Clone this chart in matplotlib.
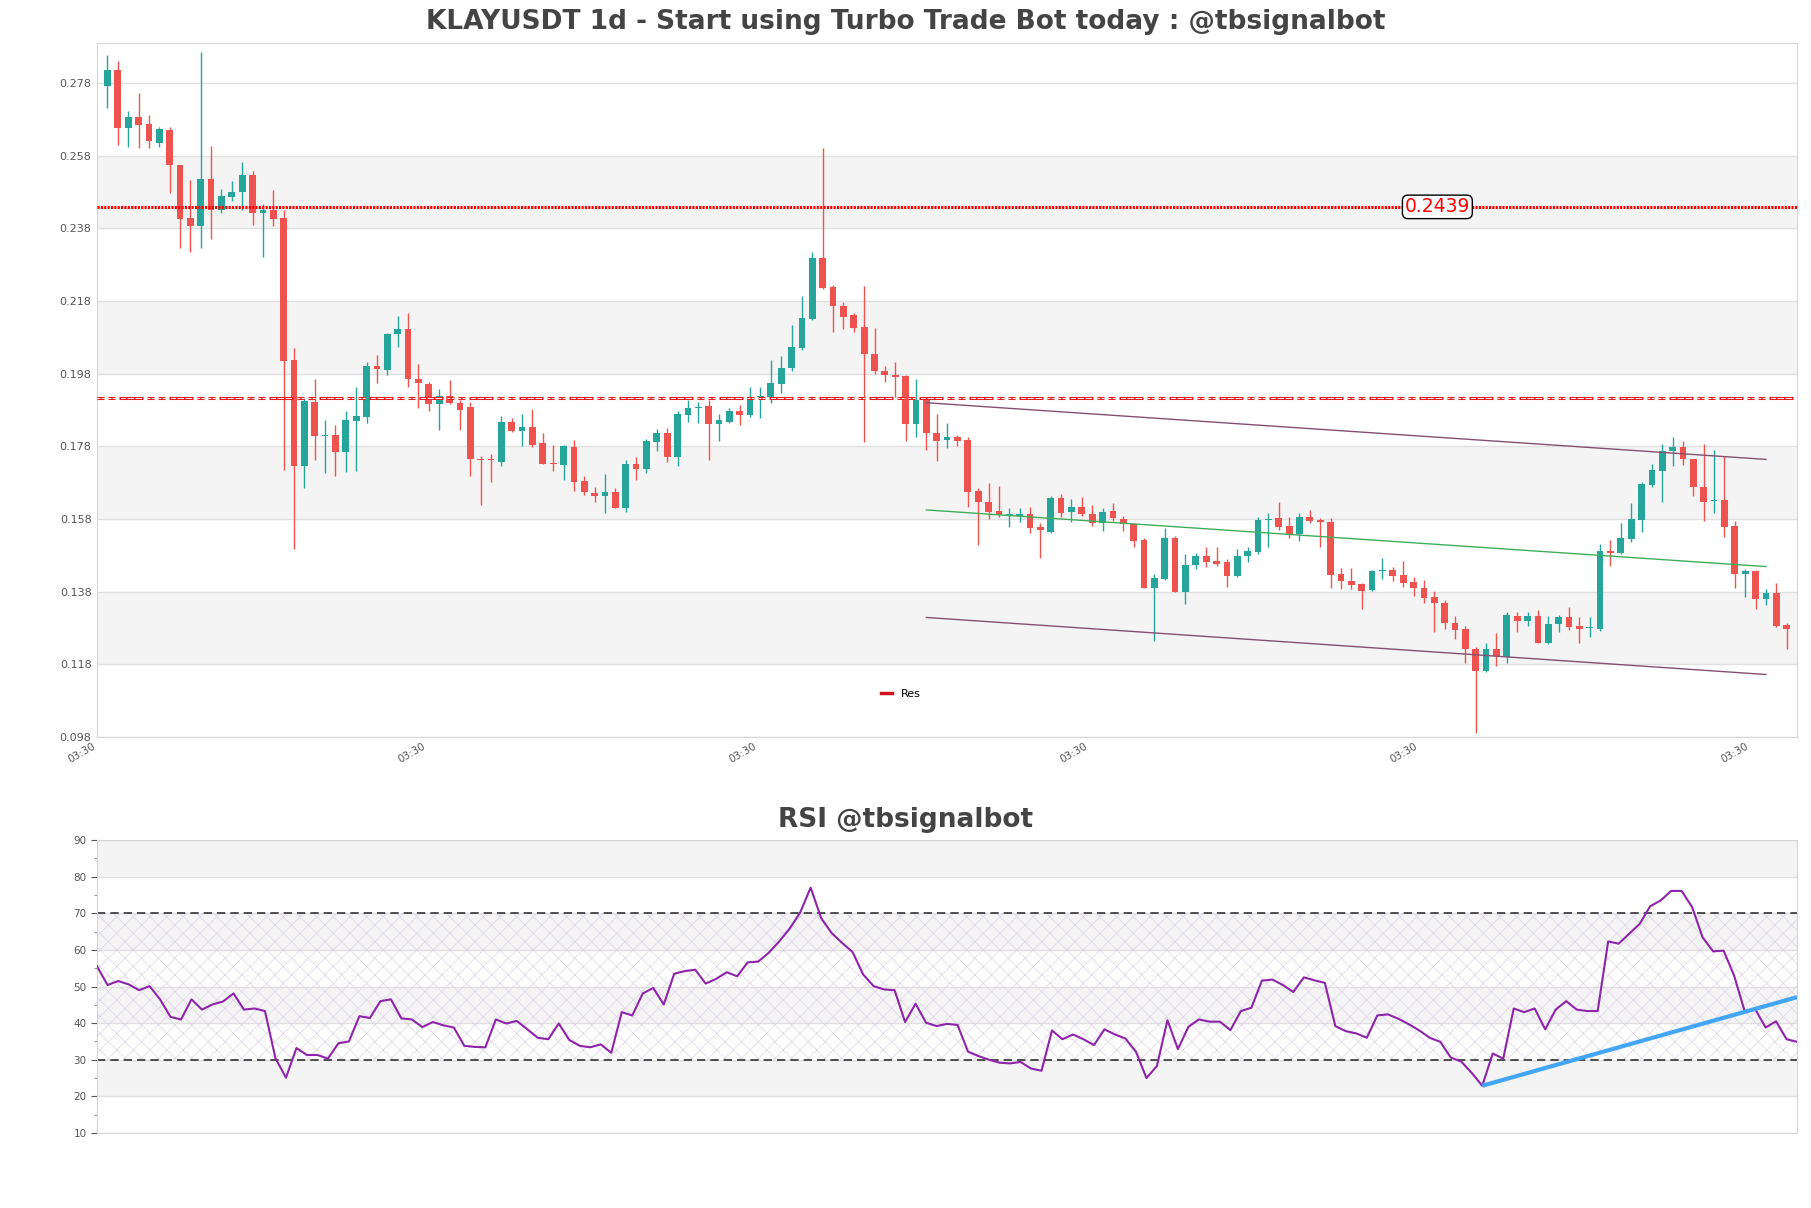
import matplotlib
matplotlib.use("Agg")
import matplotlib.pyplot as plt
from matplotlib.lines import Line2D
import numpy as np

# daily candles
opens = [0.2773, 0.2816, 0.2657, 0.2686, 0.2666, 0.2616, 0.2651, 0.2554, 0.2409, 0.2387,
         0.2516, 0.2431, 0.2467, 0.2481, 0.2527, 0.2423, 0.2431, 0.2408, 0.2018, 0.1727,
         0.1901, 0.1809, 0.1811, 0.1763, 0.1851, 0.1862, 0.2001, 0.1990, 0.2088, 0.2102,
         0.1964, 0.1952, 0.1896, 0.1919, 0.1900, 0.1887, 0.1745, 0.1744, 0.1738, 0.1847,
         0.1823, 0.1832, 0.1788, 0.1734, 0.1729, 0.1777, 0.1685, 0.1651, 0.1644, 0.1654,
         0.1611, 0.1731, 0.1718, 0.1793, 0.1816, 0.1750, 0.1866, 0.1885, 0.1891, 0.1841,
         0.1848, 0.1877, 0.1866, 0.1916, 0.1915, 0.1952, 0.1995, 0.2050, 0.2131, 0.2298,
         0.2218, 0.2167, 0.2142, 0.2108, 0.2033, 0.1987, 0.1976, 0.1974, 0.1842, 0.1908,
         0.1816, 0.1798, 0.1805, 0.1798, 0.1658, 0.1628, 0.1602, 0.1591, 0.1588, 0.1594,
         0.1559, 0.1545, 0.1639, 0.1600, 0.1612, 0.1594, 0.1568, 0.1603, 0.1579, 0.1566,
         0.1522, 0.1389, 0.1414, 0.1527, 0.1380, 0.1453, 0.1478, 0.1464, 0.1461, 0.1424,
         0.1479, 0.1490, 0.1577, 0.1582, 0.1561, 0.1539, 0.1585, 0.1577, 0.1571, 0.1429,
         0.1410, 0.1401, 0.1385, 0.1438, 0.1440, 0.1426, 0.1406, 0.1389, 0.1364, 0.1348,
         0.1293, 0.1276, 0.1221, 0.1163, 0.1221, 0.1201, 0.1314, 0.1300, 0.1313, 0.1238,
         0.1290, 0.1309, 0.1286, 0.1279, 0.1276, 0.1493, 0.1487, 0.1525, 0.1577, 0.1674,
         0.1713, 0.1768, 0.1777, 0.1745, 0.1669, 0.1630, 0.1632, 0.1561, 0.1428, 0.1437,
         0.1359, 0.1375, 0.1288]
highs = [0.2857, 0.2841, 0.2703, 0.2752, 0.2691, 0.2660, 0.2660, 0.2555, 0.2513, 0.2864,
         0.2607, 0.2487, 0.2510, 0.2562, 0.2538, 0.2447, 0.2486, 0.2431, 0.2050, 0.1912,
         0.1964, 0.1853, 0.1838, 0.1877, 0.1942, 0.2013, 0.2031, 0.2091, 0.2139, 0.2148,
         0.2007, 0.1956, 0.1937, 0.1963, 0.1908, 0.1903, 0.1753, 0.1759, 0.1864, 0.1858,
         0.1869, 0.1883, 0.1816, 0.1783, 0.1784, 0.1798, 0.1698, 0.1667, 0.1704, 0.1664,
         0.1741, 0.1750, 0.1799, 0.1827, 0.1830, 0.1876, 0.1908, 0.1903, 0.1908, 0.1869,
         0.1885, 0.1894, 0.1942, 0.1944, 0.2018, 0.2029, 0.2114, 0.2194, 0.2314, 0.2600,
         0.2224, 0.2178, 0.2146, 0.2220, 0.2105, 0.2002, 0.2011, 0.1976, 0.1965, 0.1912,
         0.1869, 0.1843, 0.1811, 0.1805, 0.1664, 0.1678, 0.1671, 0.1609, 0.1609, 0.1614,
         0.1568, 0.1643, 0.1649, 0.1635, 0.1641, 0.1619, 0.1609, 0.1623, 0.1588, 0.1570,
         0.1529, 0.1429, 0.1554, 0.1533, 0.1484, 0.1486, 0.1502, 0.1502, 0.1469, 0.1497,
         0.1504, 0.1586, 0.1596, 0.1628, 0.1586, 0.1597, 0.1605, 0.1582, 0.1582, 0.1444,
         0.1444, 0.1403, 0.1440, 0.1472, 0.1449, 0.1465, 0.1419, 0.1413, 0.1383, 0.1357,
         0.1313, 0.1286, 0.1227, 0.1240, 0.1265, 0.1325, 0.1323, 0.1323, 0.1330, 0.1313,
         0.1316, 0.1337, 0.1309, 0.1309, 0.1511, 0.1522, 0.1568, 0.1623, 0.1683, 0.1731,
         0.1786, 0.1805, 0.1795, 0.1745, 0.1786, 0.1770, 0.1753, 0.1575, 0.1441, 0.1440,
         0.1386, 0.1403, 0.1295]
lows = [0.2712, 0.2608, 0.2605, 0.2600, 0.2602, 0.2605, 0.2476, 0.2327, 0.2316, 0.2327,
        0.2351, 0.2423, 0.2456, 0.2431, 0.2390, 0.2302, 0.2387, 0.1715, 0.1497, 0.1664,
        0.1741, 0.1706, 0.1697, 0.1710, 0.1713, 0.1843, 0.1955, 0.1977, 0.2053, 0.1942,
        0.1885, 0.1878, 0.1825, 0.1896, 0.1825, 0.1697, 0.1619, 0.1683, 0.1726, 0.1819,
        0.1782, 0.1779, 0.1731, 0.1713, 0.1687, 0.1658, 0.1646, 0.1628, 0.1596, 0.1610,
        0.1600, 0.1686, 0.1706, 0.1768, 0.1738, 0.1727, 0.1848, 0.1843, 0.1742, 0.1796,
        0.1843, 0.1839, 0.1862, 0.1859, 0.1898, 0.1926, 0.1988, 0.2045, 0.2128, 0.2213,
        0.2094, 0.2103, 0.2094, 0.1793, 0.1979, 0.1956, 0.1917, 0.1796, 0.1807, 0.1770,
        0.1740, 0.1776, 0.1782, 0.1614, 0.1509, 0.1579, 0.1585, 0.1559, 0.1573, 0.1541,
        0.1472, 0.1542, 0.1585, 0.1573, 0.1589, 0.1562, 0.1548, 0.1575, 0.1548, 0.1502,
        0.1389, 0.1244, 0.1412, 0.1380, 0.1346, 0.1442, 0.1447, 0.1452, 0.1392, 0.1421,
        0.1461, 0.1484, 0.1502, 0.1550, 0.1527, 0.1520, 0.1568, 0.1504, 0.1391, 0.1386,
        0.1386, 0.1331, 0.1383, 0.1415, 0.1410, 0.1394, 0.1369, 0.1350, 0.1270, 0.1277,
        0.1249, 0.1183, 0.0990, 0.1160, 0.1175, 0.1185, 0.1270, 0.1286, 0.1238, 0.1236,
        0.1270, 0.1275, 0.1238, 0.1256, 0.1273, 0.1452, 0.1484, 0.1518, 0.1545, 0.1667,
        0.1626, 0.1727, 0.1729, 0.1644, 0.1575, 0.1596, 0.1531, 0.1389, 0.1364, 0.1331,
        0.1343, 0.1284, 0.1221]
closes = [0.2816, 0.2657, 0.2686, 0.2665, 0.2619, 0.2653, 0.2553, 0.2407, 0.2385, 0.2516,
          0.2431, 0.2469, 0.2480, 0.2527, 0.2423, 0.2431, 0.2407, 0.2016, 0.1727, 0.1906,
          0.1809, 0.1810, 0.1763, 0.1853, 0.1864, 0.2001, 0.1992, 0.2089, 0.2102, 0.1964,
          0.1953, 0.1896, 0.1919, 0.1898, 0.1880, 0.1744, 0.1742, 0.1741, 0.1847, 0.1822,
          0.1832, 0.1784, 0.1732, 0.1731, 0.1781, 0.1683, 0.1653, 0.1644, 0.1654, 0.1611,
          0.1731, 0.1718, 0.1795, 0.1818, 0.1750, 0.1869, 0.1885, 0.1889, 0.1841, 0.1853,
          0.1877, 0.1865, 0.1917, 0.1918, 0.1954, 0.1995, 0.2052, 0.2132, 0.2298, 0.2217,
          0.2167, 0.2137, 0.2107, 0.2033, 0.1986, 0.1975, 0.1972, 0.1842, 0.1908, 0.1816,
          0.1796, 0.1805, 0.1796, 0.1655, 0.1628, 0.1600, 0.1591, 0.1593, 0.1594, 0.1556,
          0.1550, 0.1639, 0.1597, 0.1612, 0.1593, 0.1568, 0.1600, 0.1582, 0.1565, 0.1520,
          0.1389, 0.1417, 0.1527, 0.1380, 0.1453, 0.1478, 0.1463, 0.1456, 0.1424, 0.1479,
          0.1492, 0.1577, 0.1580, 0.1559, 0.1539, 0.1585, 0.1575, 0.1571, 0.1426, 0.1408,
          0.1398, 0.1383, 0.1438, 0.1440, 0.1424, 0.1405, 0.1389, 0.1362, 0.1348, 0.1295,
          0.1274, 0.1221, 0.1163, 0.1221, 0.1203, 0.1316, 0.1300, 0.1313, 0.1238, 0.1291,
          0.1311, 0.1284, 0.1277, 0.1281, 0.1493, 0.1487, 0.1527, 0.1579, 0.1676, 0.1715,
          0.1767, 0.1777, 0.1744, 0.1669, 0.1628, 0.1632, 0.1559, 0.1428, 0.1438, 0.1359,
          0.1375, 0.1286, 0.1276]

rsi = [55.5, 50.4, 51.5, 50.6, 49.0, 50.1, 46.5, 41.7, 41.0, 46.5,
       43.7, 45.1, 45.9, 48.1, 43.7, 44.0, 43.3, 30.4, 25.1, 33.2,
       31.3, 31.3, 30.3, 34.5, 35.0, 41.9, 41.4, 46.0, 46.5, 41.3,
       41.0, 38.9, 40.3, 39.4, 38.8, 33.8, 33.5, 33.4, 41.0, 39.9,
       40.6, 38.3, 36.0, 35.6, 39.9, 35.4, 33.8, 33.4, 34.2, 31.9,
       43.0, 42.1, 48.1, 49.6, 45.1, 53.5, 54.2, 54.6, 50.8, 52.1,
       53.9, 52.8, 56.6, 56.8, 59.2, 62.3, 65.8, 70.2, 77.0, 68.7,
       64.6, 61.9, 59.4, 53.3, 50.1, 49.2, 49.0, 40.3, 45.3, 40.1,
       39.2, 39.8, 39.5, 32.2, 31.0, 30.0, 29.2, 29.0, 29.4, 27.6,
       27.0, 38.0, 35.6, 36.9, 35.6, 34.0, 38.3, 36.9, 35.8, 32.2,
       25.0, 28.3, 40.8, 32.9, 39.0, 41.0, 40.4, 40.4, 38.1, 43.3,
       44.2, 51.6, 51.9, 50.4, 48.5, 52.5, 51.7, 51.0, 39.2, 37.8,
       37.2, 36.0, 42.1, 42.4, 41.2, 39.7, 38.0, 36.0, 34.9, 30.6,
       29.5, 26.4, 22.9, 31.7, 30.3, 44.0, 43.0, 44.0, 38.3, 43.7,
       46.0, 43.7, 43.3, 43.3, 62.3, 61.7, 64.4, 67.1, 71.9, 73.5,
       76.1, 76.1, 71.7, 63.4, 59.6, 59.8, 53.0, 43.3, 43.9, 38.8,
       40.5, 35.6, 34.9]

res_level = 0.2439
sup_level = 0.1912
channel_x = [79, 160]
channel_top = [0.1900, 0.1744]
channel_mid = [0.1605, 0.1449]
channel_bot = [0.1309, 0.1152]
rsi_trend_x = [132, 162]
rsi_trend_y = [22.9, 47.1]

title = "KLAYUSDT 1d - Start using Turbo Trade Bot today : @tbsignalbot"
rsi_title = "RSI @tbsignalbot"

GREEN = "#26a69a"
RED = "#ef5350"
BAND = "#f4f4f4"
GRID = "#e0e0e0"
SPINE = "#d6d6d6"
TXT = "#555555"

o = np.array(opens)
h = np.array(highs)
l = np.array(lows)
c = np.array(closes)
x = np.arange(len(o))
cols = np.where(c >= o, GREEN, RED)

fig = plt.figure(figsize=(18.11, 12.08), dpi=100)
ax = fig.add_axes([0.0536, 0.3899, 0.9387, 0.5745])
ax2 = fig.add_axes([0.0536, 0.0621, 0.9387, 0.2425])

# price panel
ymin, ymax = 0.098, 0.289
ticks = np.arange(ymin, ymax, 0.02)
for lo in ticks[1:-1:2]:
    ax.axhspan(lo, lo + 0.02, color=BAND, zorder=0, lw=0)
for t in ticks:
    ax.axhline(t, color=GRID, lw=1, zorder=0.5)

ax.vlines(x, l, h, colors=cols, lw=1, zorder=3)
body_h = np.maximum(np.abs(c - o), 0.00025)
ax.bar(x, body_h, bottom=np.minimum(o, c), width=0.65, color=cols, zorder=4, lw=0)

ax.axhline(res_level, color="red", lw=2.2, ls=(0, (0.7, 0.4)), zorder=5)
ax.text(128.3, res_level, f"{res_level:.4f}", color="red", fontsize=13.5,
        ha="center", va="center", zorder=6,
        bbox=dict(boxstyle="round,pad=0.12,rounding_size=0.3", fc="white", ec="black", lw=1))

# hollow-looking dash pattern for the lower level line (lengths in px -> pt)
plt.rcParams["lines.scale_dashes"] = False
px = 0.72
red_px = [7, 4, 7, 4, 24, 4]
white_px = [2.8, 1.4, 2.8, 4, 2.8, 1.4, 2.8, 5.5, 5, 1.5, 6.5, 1.5, 6.5, 5.5]
ax.axhline(sup_level, color="#e41a1c", lw=2.2, ls=(0, [v * px for v in red_px]), zorder=5)
ax.axhline(sup_level, color="white", lw=0.75, ls=(0, [v * px for v in white_px]), zorder=5.1)
plt.rcParams["lines.scale_dashes"] = True

ax.plot(channel_x, channel_top, color="#85506e", lw=1, zorder=5)
ax.plot(channel_x, channel_mid, color="#3fae5a", lw=1, zorder=5)
ax.plot(channel_x, channel_bot, color="#85506e", lw=1, zorder=5)

ax.legend(handles=[Line2D([0], [0], color="#d0131d", lw=2.5, label="Res")],
          loc="center", bbox_to_anchor=(0.473, 0.062), frameon=False,
          fontsize=8, handlelength=1.0, handletextpad=0.8)

ax.set_xlim(-1, len(o))
ax.set_ylim(ymin, ymax)
ax.set_yticks(ticks)
ax.set_yticklabels([f"{t:.3f}" for t in ticks])
tick_step = 31.9
xt = [-1 + tick_step * k for k in range(6)]
ax.set_xticks(xt)
ax.set_xticklabels(["03:30"] * len(xt), rotation=30, ha="right")
ax.tick_params(axis="both", length=0, labelsize=8, colors=TXT, pad=4)
ax.tick_params(axis="x", labelsize=7.5, pad=3)
for s in ax.spines.values():
    s.set_color(SPINE)

# RSI panel
for lo in (20, 40, 60, 80):
    ax2.axhspan(lo, lo + 10, color=BAND, zorder=0, lw=0)
for t in range(10, 100, 10):
    ax2.axhline(t, color=GRID, lw=1, zorder=0.5)
plt.rcParams["hatch.linewidth"] = 0.45
ax2.axhspan(30, 70, facecolor="none", edgecolor="#dccfe4", hatch="xx", lw=0, zorder=1)
ax2.axhline(30, color="#333333", lw=1.2, ls=(0, (5, 3)), zorder=2)
ax2.axhline(70, color="#333333", lw=1.2, ls=(0, (5, 3)), zorder=2)
ax2.plot(np.arange(len(rsi)), rsi, color="#8e24aa", lw=1.5, zorder=4)
ax2.plot(rsi_trend_x, rsi_trend_y, color="#42a5f5", lw=3, zorder=5, solid_capstyle="butt")

ax2.set_xlim(0, len(rsi) - 1)
ax2.set_ylim(10, 90)
ax2.set_yticks(range(10, 100, 10))
ax2.set_yticks(range(15, 90, 10), minor=True)
ax2.set_xticks([])
ax2.tick_params(axis="y", which="major", length=4, labelsize=7.5, colors=TXT, width=0.8)
ax2.tick_params(axis="y", which="minor", length=2.5, colors="#999999", width=0.8)
for s in ax2.spines.values():
    s.set_color(SPINE)

fig.text(0.5, 0.9818, title, ha="center", va="center", fontsize=19,
         fontweight="bold", color="#444444")
fig.text(0.5, 0.3212, rsi_title, ha="center", va="center", fontsize=19,
         fontweight="bold", color="#444444")

fig.savefig("out.png", dpi=100)
